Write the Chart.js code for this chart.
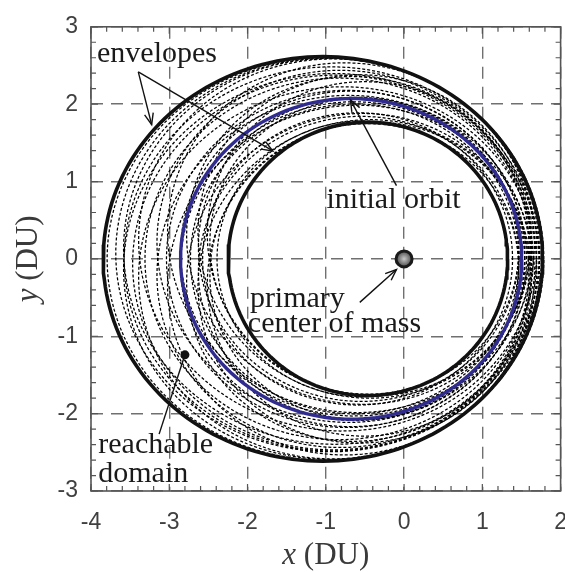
<!DOCTYPE html>
<html>
<head>
<meta charset="utf-8">
<script src="https://cdn.jsdelivr.net/npm/chart.js@4.4.1/dist/chart.umd.min.js"></script>
<style>
  html, body { margin: 0; padding: 0; overflow: hidden; background: #fff; }
  #wrap { position: absolute; left: 0; top: 0; width: 585px; height: 572px; }
</style>
</head>
<body>
<div id="wrap"><canvas id="orbitChart" width="585" height="572"></canvas></div>
<script>
// initial orbit (DU), primary at the focus
var initA = 2.18;
var initE = 0.31;

// sampled trajectories after the impulse: semi-major axis, eccentricity, periapsis angle (deg)
var orbitA = [1.86, 1.98, 2.10, 2.30, 2.48, 2.65, 2.79,
              2.20, 2.66, 2.20, 2.66,
              2.05, 2.40, 2.55, 2.05, 2.40, 2.55,
              2.20, 2.36, 2.20, 2.36, 1.98, 1.98,
              2.15, 2.08, 2.15, 2.08,
              2.58, 2.72];
var orbitE = [0.285, 0.30, 0.30, 0.32, 0.335, 0.35, 0.36,
              0.30, 0.35, 0.30, 0.35,
              0.29, 0.325, 0.34, 0.29, 0.325, 0.34,
              0.29, 0.31, 0.29, 0.31, 0.27, 0.27,
              0.27, 0.25, 0.27, 0.25,
              0.345, 0.355];
var orbitW = [0, 0, 0, 0, 0, 0, 0,
              6, 6, -6, -6,
              12, 12, 12, -12, -12, -12,
              22, 22, -22, -22, 18, -18,
              30, 30, -30, -30,
              3, -3];

// outer and inner envelopes: centre x, semi-axes
var envCx = [-1.037, -0.462];
var envRx = [2.807, 1.785];
var envRy = [2.614, 1.766];

var reachPoint = { x: -2.80, y: -1.24 };
var xTicks = [-4, -3, -2, -1, 0, 1, 2];
var yTicks = [-3, -2, -1, 0, 1, 2, 3];

function keplerOrbit(a, e, wDeg) {
  var p = a * (1 - e * e), w = wDeg * Math.PI / 180, pts = [];
  for (var k = 0; k <= 360; k += 2) {
    var th = k * Math.PI / 180;
    var r = p / (1 + e * Math.cos(th - w));
    pts.push({ x: r * Math.cos(th), y: r * Math.sin(th) });
  }
  return pts;
}

function ellipse(cx, rx, ry) {
  var pts = [];
  for (var k = 0; k <= 360; k += 2) {
    var t = k * Math.PI / 180;
    pts.push({ x: cx + rx * Math.cos(t), y: ry * Math.sin(t) });
  }
  return pts;
}

var datasets = [];
for (var i = 0; i < orbitA.length; i++) {
  datasets.push({
    data: keplerOrbit(orbitA[i], orbitE[i], orbitW[i]),
    showLine: true, pointRadius: 0, borderColor: '#000', borderWidth: 1.25,
    borderDash: [3, 2], order: 3
  });
}
for (var j = 0; j < envCx.length; j++) {
  datasets.push({
    data: ellipse(envCx[j], envRx[j], envRy[j]),
    showLine: true, pointRadius: 0, borderColor: '#111', borderWidth: 3.6, order: 2
  });
}
datasets.push({
  data: keplerOrbit(initA, initE, 0),
  showLine: true, pointRadius: 0, borderColor: '#302b8f', borderWidth: 3.4, order: 1
});
datasets.push({
  data: [reachPoint],
  showLine: false, pointRadius: 4.5, pointBackgroundColor: '#111', pointBorderWidth: 0, order: 0
});

function arrow(ctx, x1, y1, x2, y2, head) {
  ctx.beginPath();
  ctx.moveTo(x1, y1);
  ctx.lineTo(x2, y2);
  ctx.stroke();
  if (!head) return;
  var ang = Math.atan2(y2 - y1, x2 - x1), L = 12, s = 0.38;
  ctx.beginPath();
  ctx.moveTo(x2 - L * Math.cos(ang - s), y2 - L * Math.sin(ang - s));
  ctx.lineTo(x2, y2);
  ctx.lineTo(x2 - L * Math.cos(ang + s), y2 - L * Math.sin(ang + s));
  ctx.stroke();
}

function mixedTitle(ctx, sym, rest, cx, cy) {
  var fi = 'italic 31px "Liberation Serif"', fr = '31px "Liberation Serif"';
  ctx.font = fi; var w1 = ctx.measureText(sym).width;
  ctx.font = fr; var w2 = ctx.measureText(rest).width;
  var x0 = cx - (w1 + w2) / 2;
  ctx.textAlign = 'left';
  ctx.font = fi; ctx.fillText(sym, x0, cy);
  ctx.font = fr; ctx.fillText(rest, x0 + w1, cy);
}

var notes = {
  id: 'notes',
  afterDatasetsDraw: function (chart) {
    var ctx = chart.ctx, xs = chart.scales.x, ys = chart.scales.y, a = chart.chartArea;
    var X = function (v) { return xs.getPixelForValue(v); };
    var Y = function (v) { return ys.getPixelForValue(v); };
    ctx.save();

    // frame and inward ticks on all four sides
    ctx.strokeStyle = '#555';
    ctx.lineWidth = 1.6;
    ctx.strokeRect(a.left, a.top, a.right - a.left, a.bottom - a.top);
    ctx.lineWidth = 1.2;
    ctx.beginPath();
    for (var k = 0; k <= 30; k++) {
      var len = (k % 5 === 0) ? 7 : 5;
      var px = X(-4 + k * 0.2), py = Y(-3 + k * 0.2);
      ctx.moveTo(px, a.bottom); ctx.lineTo(px, a.bottom - len);
      ctx.moveTo(px, a.top); ctx.lineTo(px, a.top + len);
      ctx.moveTo(a.left, py); ctx.lineTo(a.left + len, py);
      ctx.moveTo(a.right, py); ctx.lineTo(a.right - len, py);
    }
    ctx.stroke();

    // primary at the origin
    var ox = X(0), oy = Y(0);
    var g = ctx.createRadialGradient(ox, oy, 0, ox, oy, 8);
    g.addColorStop(0, '#c8c8c8');
    g.addColorStop(1, '#4a4a4a');
    ctx.beginPath();
    ctx.arc(ox, oy, 8, 0, Math.PI * 2);
    ctx.fillStyle = g;
    ctx.fill();
    ctx.lineWidth = 3;
    ctx.strokeStyle = '#1a1a1a';
    ctx.stroke();

    // callouts
    ctx.strokeStyle = '#111';
    ctx.lineWidth = 1.4;
    arrow(ctx, X(-3.396), Y(2.417), X(-3.225), Y(1.736), true);
    arrow(ctx, X(-3.396), Y(2.417), X(-1.677), Y(1.395), true);
    arrow(ctx, X(-0.097), Y(0.948), X(-0.685), Y(2.055), true);
    arrow(ctx, X(-0.566), Y(-0.562), X(-0.097), Y(-0.137), true);
    arrow(ctx, X(reachPoint.x), Y(reachPoint.y), X(-3.13), Y(-2.265), false);

    ctx.fillStyle = '#1a1a1a';
    ctx.font = '30px "Liberation Serif"';
    ctx.textAlign = 'left';
    ctx.textBaseline = 'alphabetic';
    ctx.fillText('envelopes', X(-3.923), Y(2.546));
    ctx.fillText('initial orbit', X(-0.991), Y(0.664));
    ctx.fillText('primary', X(-1.970), Y(-0.626));
    ctx.fillText('center of mass', X(-1.996), Y(-0.945));
    ctx.fillText('reachable', X(-3.907), Y(-2.511));
    ctx.fillText('domain', X(-3.907), Y(-2.881));

    // axis titles
    ctx.fillStyle = '#3a3a3a';
    mixedTitle(ctx, 'x', ' (DU)', (a.left + a.right) / 2, 564);
    ctx.translate(37, (a.top + a.bottom) / 2);
    ctx.rotate(-Math.PI / 2);
    mixedTitle(ctx, 'y', ' (DU)', 0, 0);
    ctx.restore();
  }
};

var tickFont = { family: '"Liberation Sans", Arial, sans-serif', size: 23 };

var orbitChart = new Chart(document.getElementById('orbitChart'), {
  type: 'scatter',
  data: { datasets: datasets },
  options: {
    responsive: false,
    animation: false,
    devicePixelRatio: 1,
    layout: { padding: { top: 21, right: 24, left: 0, bottom: 0 } },
    plugins: { legend: { display: false }, tooltip: { enabled: false } },
    elements: { line: { tension: 0 } },
    scales: {
      x: {
        type: 'linear', min: -4, max: 2,
        afterBuildTicks: function (s) { s.ticks = xTicks.map(function (v) { return { value: v }; }); },
        afterFit: function (s) { s.height = 81; },
        ticks: { font: tickFont, color: '#404040', padding: 18 },
        grid: { color: '#707070', lineWidth: 1.4, drawTicks: false },
        border: { display: false, dash: [12, 8] }
      },
      y: {
        type: 'linear', min: -3, max: 3,
        afterBuildTicks: function (s) { s.ticks = yTicks.map(function (v) { return { value: v }; }); },
        afterFit: function (s) { s.width = 91; },
        ticks: { font: tickFont, color: '#404040', padding: 13 },
        grid: { color: '#707070', lineWidth: 1.4, drawTicks: false },
        border: { display: false, dash: [12, 8] }
      }
    }
  },
  plugins: [notes]
});
</script>
</body>
</html>
